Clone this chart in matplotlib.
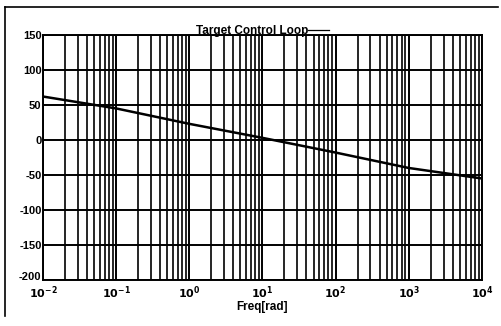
import numpy as np
import matplotlib.pyplot as plt
import matplotlib.transforms as mtransforms
from matplotlib.lines import Line2D
from matplotlib.ticker import LogLocator, NullFormatter

plt.rcParams['font.family'] = ['Liberation Sans', 'DejaVu Sans']
plt.rcParams['font.weight'] = 'bold'
plt.rcParams['mathtext.default'] = 'bf'
plt.rcParams['axes.unicode_minus'] = False

# values
freq = [1e-2, 1e-1, 1e0, 1e1, 1e2, 1e3, 1e4]
phase = [62, 45, 23, 3, -18, -40, -55]
y_ticks = [-200, -150, -100, -50, 0, 50, 100, 150]
x_ticks = [1e-2, 1e-1, 1e0, 1e1, 1e2, 1e3, 1e4]
x_labels = ['$10^{-2}$', '$10^{-1}$', '$10^{0}$', '$10^{1}$',
            '$10^{2}$', '$10^{3}$', '$10^{4}$']

fig = plt.figure(figsize=(5.01, 3.26), dpi=100)
ax = fig.add_axes([0.0858, 0.141, 0.876, 0.752])

ax.semilogx(freq, phase, color='black', lw=1.8)
ax.set_xlim(1e-2, 1e4)
ax.set_ylim(-200, 150)
ax.set_yticks(y_ticks)
ax.set_xticks(x_ticks)
ax.set_xticklabels(x_labels)
ax.xaxis.set_minor_locator(LogLocator(base=10, subs=np.arange(2, 10), numticks=100))
ax.xaxis.set_minor_formatter(NullFormatter())

ax.grid(True, which='major', color='black', lw=1.4)
ax.grid(True, which='minor', axis='x', color='black', lw=1.2)
ax.tick_params(which='both', length=0, labelsize=8, pad=1)
ax.tick_params(axis='x', pad=3)
for s in ax.spines.values():
    s.set_linewidth(1.4)

# lift the bottom y label a little so it clears 10^-2
lbl = ax.get_yticklabels()[0]
lbl.set_transform(lbl.get_transform() +
                  mtransforms.ScaledTranslation(0, 3 / 72, fig.dpi_scale_trans))

ax.set_xlabel('Freq[rad]', fontsize=8.5, fontweight='bold', labelpad=0)

handle = Line2D([], [], color='black', lw=0.9)
ax.legend([handle], ['Target Control Loop'], loc='lower center',
          bbox_to_anchor=(0.5, 0.99), frameon=False, markerfirst=False,
          fontsize=8.5, handlelength=1.8, handletextpad=0.0,
          borderpad=0, borderaxespad=0)

# scan frame
fig.add_artist(Line2D([0.01, 0.994], [0.978, 0.978], color='black', lw=1.2))
fig.add_artist(Line2D([0.01, 0.01], [0.03, 0.978], color='black', lw=1.2))

fig.savefig('out.png', dpi=100)
